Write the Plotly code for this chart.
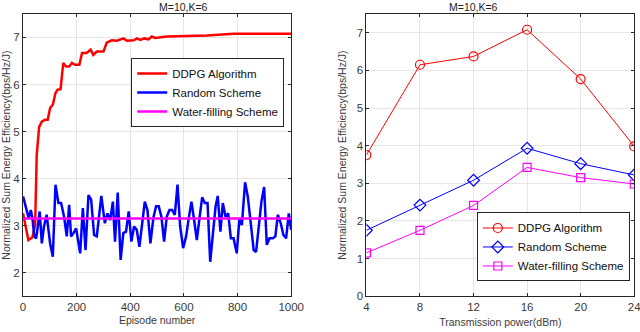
import plotly.graph_objects as go

# left panel: convergence over episodes
ddpg_ep = [0, 20, 35, 45, 51, 60, 70, 82, 92, 101, 111, 121, 129, 140, 150, 160, 172, 182,
           194, 210, 220, 237, 252, 262, 275, 300, 312, 331, 350, 375, 387, 413, 425, 437,
           452, 468, 480, 493, 537, 599, 686, 785, 910, 1000]
ddpg_val = [3.26, 2.69, 2.75, 3.01, 4.5, 5.1, 5.21, 5.25, 5.25, 5.5, 5.57, 5.82, 5.89, 5.9,
            6.46, 6.38, 6.38, 6.46, 6.42, 6.42, 6.67, 6.67, 6.74, 6.63, 6.7, 6.7, 6.89, 6.94,
            6.93, 6.98, 6.93, 6.94, 6.98, 6.95, 6.98, 6.96, 7.02, 6.99, 7.02, 7.03, 7.04, 7.08,
            7.08, 7.08]

rand_ep = [0, 14, 21, 29, 35, 42, 49, 55, 62, 70, 78, 88, 101, 111, 121, 132, 142, 153, 163,
           172, 179, 188, 198, 213, 223, 233, 244, 254, 265, 275, 292, 305, 315, 325, 335, 343,
           353, 364, 374, 384, 394, 404, 414, 424, 434, 454, 464, 475, 486, 496, 506, 516, 526,
           536, 546, 556, 566, 576, 586, 597, 608, 618, 628, 638, 648, 658, 668, 678, 688, 698,
           710, 718, 726, 736, 745, 755, 765, 775, 785, 797, 807, 816, 828, 838, 850, 860, 869,
           879, 889, 899, 909, 919, 932, 941, 950, 961, 971, 981, 991, 1000]
rand_val = [3.62, 3.33, 3.16, 3.33, 3.16, 2.77, 2.73, 2.98, 3.3, 2.62, 2.98, 3.23, 2.62, 2.34,
            3.87, 3.48, 3.48, 3.19, 2.77, 3.44, 2.77, 2.84, 2.94, 2.41, 3.37, 2.48, 3.65, 3.55,
            2.8, 2.77, 3.63, 3.05, 3.26, 3.12, 3.51, 2.66, 3.7, 2.27, 2.84, 2.87, 3.3, 2.66,
            2.98, 2.91, 2.55, 3.51, 3.33, 2.62, 3.16, 3.41, 3.41, 3.19, 2.66, 3.19, 3.33, 3.33,
            3.23, 3.87, 2.98, 2.52, 2.77, 3.16, 3.51, 3.12, 2.69, 3.16, 3.6, 3.48, 3.48, 2.23,
            2.98, 3.41, 3.63, 2.87, 3.48, 3.19, 3.26, 2.73, 2.73, 2.41, 3.16, 3.01, 3.92, 3.62,
            3.01, 2.48, 2.44, 3.01, 3.51, 3.82, 2.59, 2.73, 2.73, 2.77, 3.23, 3.05, 2.8, 2.73,
            3.26, 2.91]

wf_ep = [0, 1000]
wf_val = [3.15, 3.15]

# right panel: vs transmission power
power = [4, 8, 12, 16, 20, 24]
ddpg_p = [3.75, 6.15, 6.37, 7.08, 5.77, 3.98]
rand_p = [1.75, 2.42, 3.08, 3.93, 3.52, 3.22]
wf_p = [1.15, 1.75, 2.41, 3.42, 3.15, 2.98]

FONT = "Liberation Sans, Arial, sans-serif"
txt = "#3a3a3a"
ylab = "Normalized Sum Energy Efficiency(bps/Hz/J)"

fig = go.Figure()

fig.add_trace(go.Scatter(x=ddpg_ep, y=ddpg_val, mode="lines", name="DDPG Algorithm",
                         line=dict(color="#ff0000", width=2.5), legend="legend"))
fig.add_trace(go.Scatter(x=rand_ep, y=rand_val, mode="lines", name="Random Scheme",
                         line=dict(color="#0000ff", width=2.5), legend="legend"))
fig.add_trace(go.Scatter(x=wf_ep, y=wf_val, mode="lines", name="Water-filling Scheme",
                         line=dict(color="#ff00ff", width=2.5), legend="legend"))

mk = dict(size=9, line=dict(width=1.2))
fig.add_trace(go.Scatter(x=power, y=ddpg_p, mode="lines+markers", name="DDPG Algorithm",
                         xaxis="x2", yaxis="y2", legend="legend2",
                         line=dict(color="#ff0000", width=1),
                         marker=dict(symbol="circle-open", color="#ff0000", **mk)))
fig.add_trace(go.Scatter(x=power, y=rand_p, mode="lines+markers", name="Random Scheme",
                         xaxis="x2", yaxis="y2", legend="legend2",
                         line=dict(color="#0000ff", width=1),
                         marker=dict(symbol="diamond-open", color="#0000ff", **mk)))
fig.add_trace(go.Scatter(x=power, y=wf_p, mode="lines+markers", name="Water-filling Scheme",
                         xaxis="x2", yaxis="y2", legend="legend2",
                         line=dict(color="#ff00ff", width=1),
                         marker=dict(symbol="square-open", color="#ff00ff", size=8,
                                     line=dict(width=1.2))))

ax = dict(showline=True, linecolor="#262626", linewidth=1, mirror="ticks", ticks="inside",
          ticklen=3, tickcolor="#262626", showgrid=True, gridcolor="#e6e6e6", zeroline=False,
          tickfont=dict(size=11.5, color=txt, family=FONT), automargin=False,
          ticklabeloverflow="allow")

leg = dict(xanchor="left", yanchor="top", bgcolor="white", bordercolor="#262626",
           borderwidth=1, font=dict(size=11.5, color="#111", family=FONT),
           tracegroupgap=0)

fig.update_layout(
    width=640, height=332,
    margin=dict(l=0, r=0, t=0, b=0),
    paper_bgcolor="white", plot_bgcolor="white",
    font=dict(family=FONT, color=txt),
    xaxis=dict(domain=[0.036, 0.455], range=[0, 1000], tickvals=[0, 200, 400, 600, 800, 1000],
               title=dict(text="Episode number", font=dict(size=10.5), standoff=4),
               anchor="y", **ax),
    yaxis=dict(domain=[0.108, 0.958], range=[1.5, 7.5], tickvals=[2, 3, 4, 5, 6, 7],
               title=dict(text=ylab, font=dict(size=10.5), standoff=3),
               anchor="x", **ax),
    xaxis2=dict(domain=[0.5725, 0.991], range=[4, 24], tickvals=power,
                title=dict(text="Transmission power(dBm)", font=dict(size=10.5), standoff=6),
                anchor="y2", **ax),
    yaxis2=dict(domain=[0.108, 0.958], range=[0, 7.5], tickvals=[0, 1, 2, 3, 4, 5, 6, 7],
                title=dict(text=ylab, font=dict(size=10.5), standoff=8),
                anchor="x2", **ax),
    legend=dict(x=0.205, y=0.825, **leg),
    legend2=dict(x=0.745, y=0.36, **leg),
    annotations=[
        dict(text="M=10,K=6", x=0.2455, y=1 - 7 / 332, xref="paper", yref="paper",
             yanchor="middle", showarrow=False, font=dict(size=10.5, color="#222")),
        dict(text="M=10,K=6", x=0.7817, y=1 - 7 / 332, xref="paper", yref="paper",
             yanchor="middle", showarrow=False, font=dict(size=10.5, color="#222")),
    ],
)

# page body has a default 8px margin; drop it so the figure fills the window
fig.write_html("out.html", config={"displayModeBar": False},
               post_script="document.body.style.margin='0';")
